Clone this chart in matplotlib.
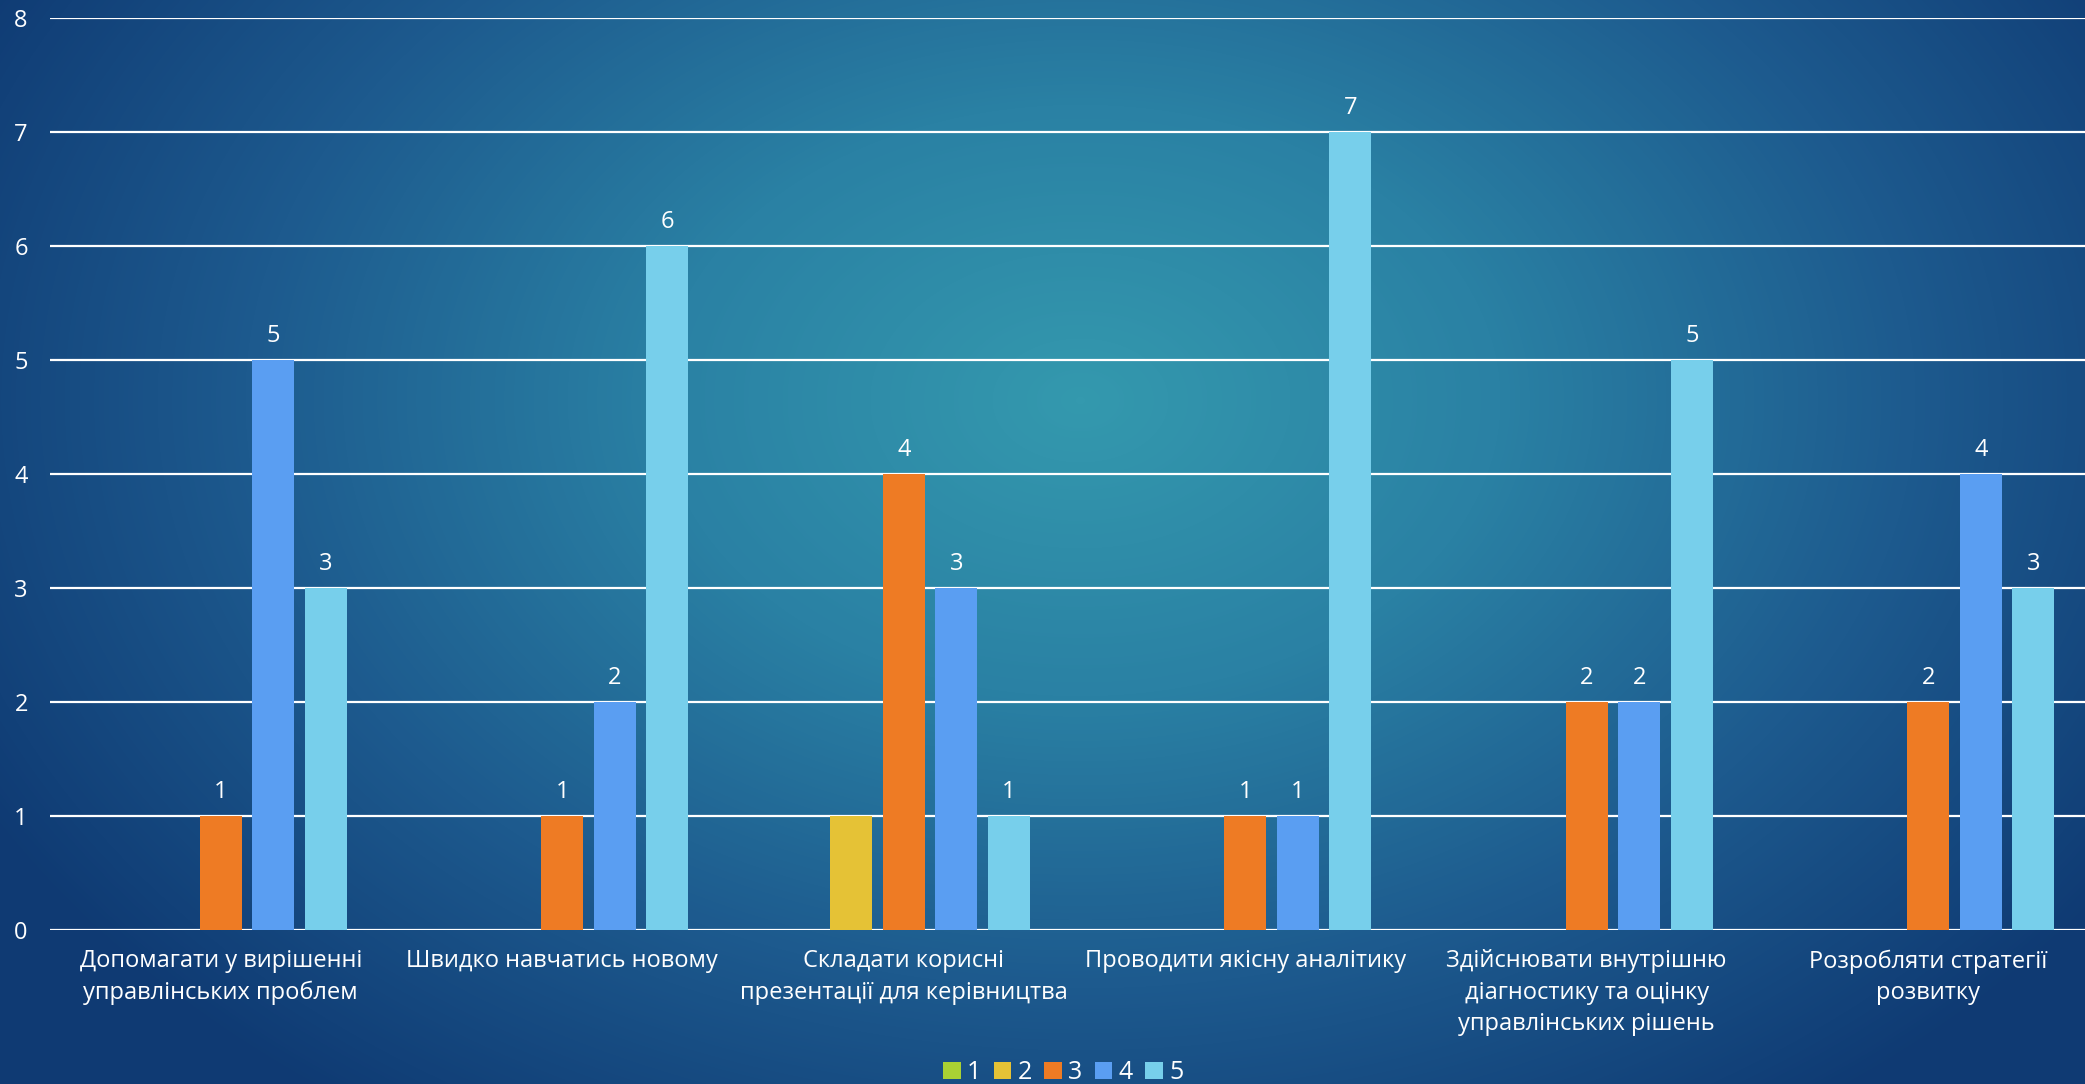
import numpy as np
import matplotlib.pyplot as plt
from matplotlib.colors import LinearSegmentedColormap

categories = ['Допомагати у вирішенні\nуправлінських проблем',
              'Швидко навчатись новому',
              'Складати корисні\nпрезентації для керівництва',
              'Проводити якісну аналітику',
              'Здійснювати внутрішню\nдіагностику та оцінку\nуправлінських рішень',
              'Розробляти стратегії\nрозвитку']
series_names = ['1', '2', '3', '4', '5']
s1 = [0, 0, 0, 0, 0, 0]
s2 = [0, 0, 1, 0, 0, 0]
s3 = [1, 1, 4, 1, 2, 2]
s4 = [5, 2, 3, 1, 2, 4]
s5 = [3, 6, 1, 7, 5, 3]
colors = ['#a9d134', '#e5c236', '#ee7b24', '#5a9ef2', '#77cfeb']
labeled = [False, False, True, True, True]

plt.rcParams['font.family'] = ['Open Sans', 'DejaVu Sans']

fig = plt.figure(figsize=(20.85, 10.84), dpi=100)

# radial background
bg = fig.add_axes([0, 0, 1, 1])
bg.set_axis_off()
W, H = 2085, 1084
xx, yy = np.meshgrid(np.arange(W), np.arange(H))
r = np.sqrt(((xx - 1080) / 1250.0) ** 2 + ((yy - 400) / 880.0) ** 2)
r = np.clip(r, 0, 1)
cmap = LinearSegmentedColormap.from_list('bg', ['#3499ae', '#2a81a4', '#1d5a8e', '#0f3a73'])
bg.imshow(r, cmap=cmap, aspect='auto', extent=[0, 1, 0, 1], vmin=0, vmax=1)
bg.set_xlim(0, 1)
bg.set_ylim(0, 1)

ax = fig.add_axes([50 / W, 1 - 930 / H, 2049 / W, 912 / H])
ax.patch.set_alpha(0)

x = np.arange(len(categories))
width = 0.123
step = 0.154
data = [s1, s2, s3, s4, s5]
for i, vals in enumerate(data):
    pos = x + (i - 2) * step
    bars = ax.bar(pos, vals, width, color=colors[i], label=series_names[i], zorder=3)
    if labeled[i]:
        for b, v in zip(bars, vals):
            if v > 0:
                ax.annotate(str(v), (b.get_x() + b.get_width() / 2, v),
                            xytext=(0, 9), textcoords='offset points',
                            ha='center', va='bottom', color='white', fontsize=17)

ax.set_ylim(0, 8)
ax.set_xlim(-0.5, 5.5)
ax.set_yticks(range(0, 9))
for y in range(0, 9):
    ax.axhline(y, color='white', lw=1.6, zorder=2)
for s in ax.spines.values():
    s.set_visible(False)
ax.tick_params(length=0, colors='white', labelsize=17)
ax.tick_params(axis='y', pad=16)
ax.tick_params(axis='x', pad=14)
ax.set_xticks(x)
ax.set_xticklabels(categories, color='white', fontsize=17, linespacing=1.4, va='top')

leg = fig.legend(loc='lower center', bbox_to_anchor=(0.51, -0.022), ncol=5, frameon=False,
                 fontsize=18, labelcolor='white', handlelength=0.7, handleheight=0.7,
                 handletextpad=0.25, columnspacing=0.5)

fig.savefig('out.png', dpi=100)
